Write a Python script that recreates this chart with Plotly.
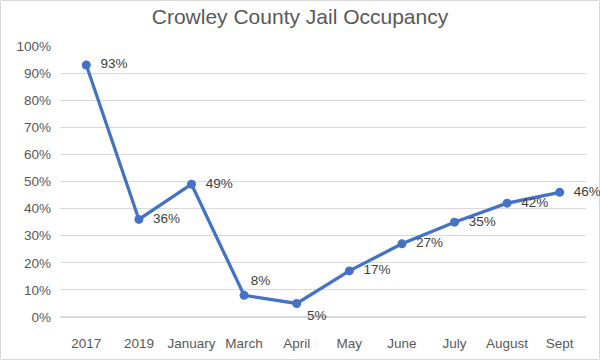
import plotly.graph_objects as go

categories = ["2017", "2019", "January", "March", "April", "May", "June", "July", "August", "Sept"]
occupancy = [0.93, 0.36, 0.49, 0.08, 0.05, 0.17, 0.27, 0.35, 0.42, 0.46]
labels = ["93%", "36%", "49%", "8%", "5%", "17%", "27%", "35%", "42%", "46%"]
positions = ["middle right"] * 3 + ["top right", "bottom right"] + ["middle right"] * 5

FONT = "Liberation Sans, Arial"
fig = go.Figure(go.Scatter(
    x=categories, y=occupancy, mode="lines+markers+text",
    text=labels, textposition=positions,
    texttemplate=["  %{text}"] * 3 + ["%{text}", " %{text}"] + ["  %{text}"] * 5,
    textfont=dict(size=13.5, color="#404040", family=FONT),
    line=dict(color="#4472C4", width=3.25),
    marker=dict(color="#4472C4", size=9),
    cliponaxis=False, showlegend=False,
))

L, R, T, B = 60, 14, 46, 43
W, H = 600, 360
pw, ph = W - L - R, H - T - B
fig.update_layout(
    width=W, height=H,
    margin=dict(l=L, r=R, t=T, b=B, autoexpand=False),
    paper_bgcolor="white", plot_bgcolor="white",
    title=dict(text="Crowley County Jail Occupancy", x=0.5, xanchor="center", y=1 - 17 / H, yanchor="middle",
               font=dict(size=21, color="#595959", family=FONT)),
    font=dict(family=FONT, color="#595959", size=13.5),
)
fig.update_xaxes(type="category", range=[-0.5, len(categories) - 0.5], showgrid=False, showline=False,
                 ticks="", ticklabelstandoff=16, automargin=False, tickfont=dict(size=13.5, color="#595959"))
fig.update_yaxes(range=[0, 1], dtick=0.1, tickformat=".0%", showgrid=True, gridcolor="#D9D9D9",
                 gridwidth=1, zeroline=True, zerolinecolor="#D9D9D9", showline=False, ticks="",
                 automargin=False, ticklabelstandoff=8, tickfont=dict(size=13.5, color="#595959"))
fig.add_shape(type="rect", xref="paper", yref="paper",
              x0=(0.5 - L) / pw, x1=(W - 0.5 - L) / pw,
              y0=(0.5 - B) / ph, y1=(H - 0.5 - B) / ph,
              line=dict(color="#D9D9D9", width=1), layer="below")
fig.write_html("out.html", config={"displayModeBar": False},
               post_script="document.body.style.margin='0';document.body.style.overflow='hidden';")
